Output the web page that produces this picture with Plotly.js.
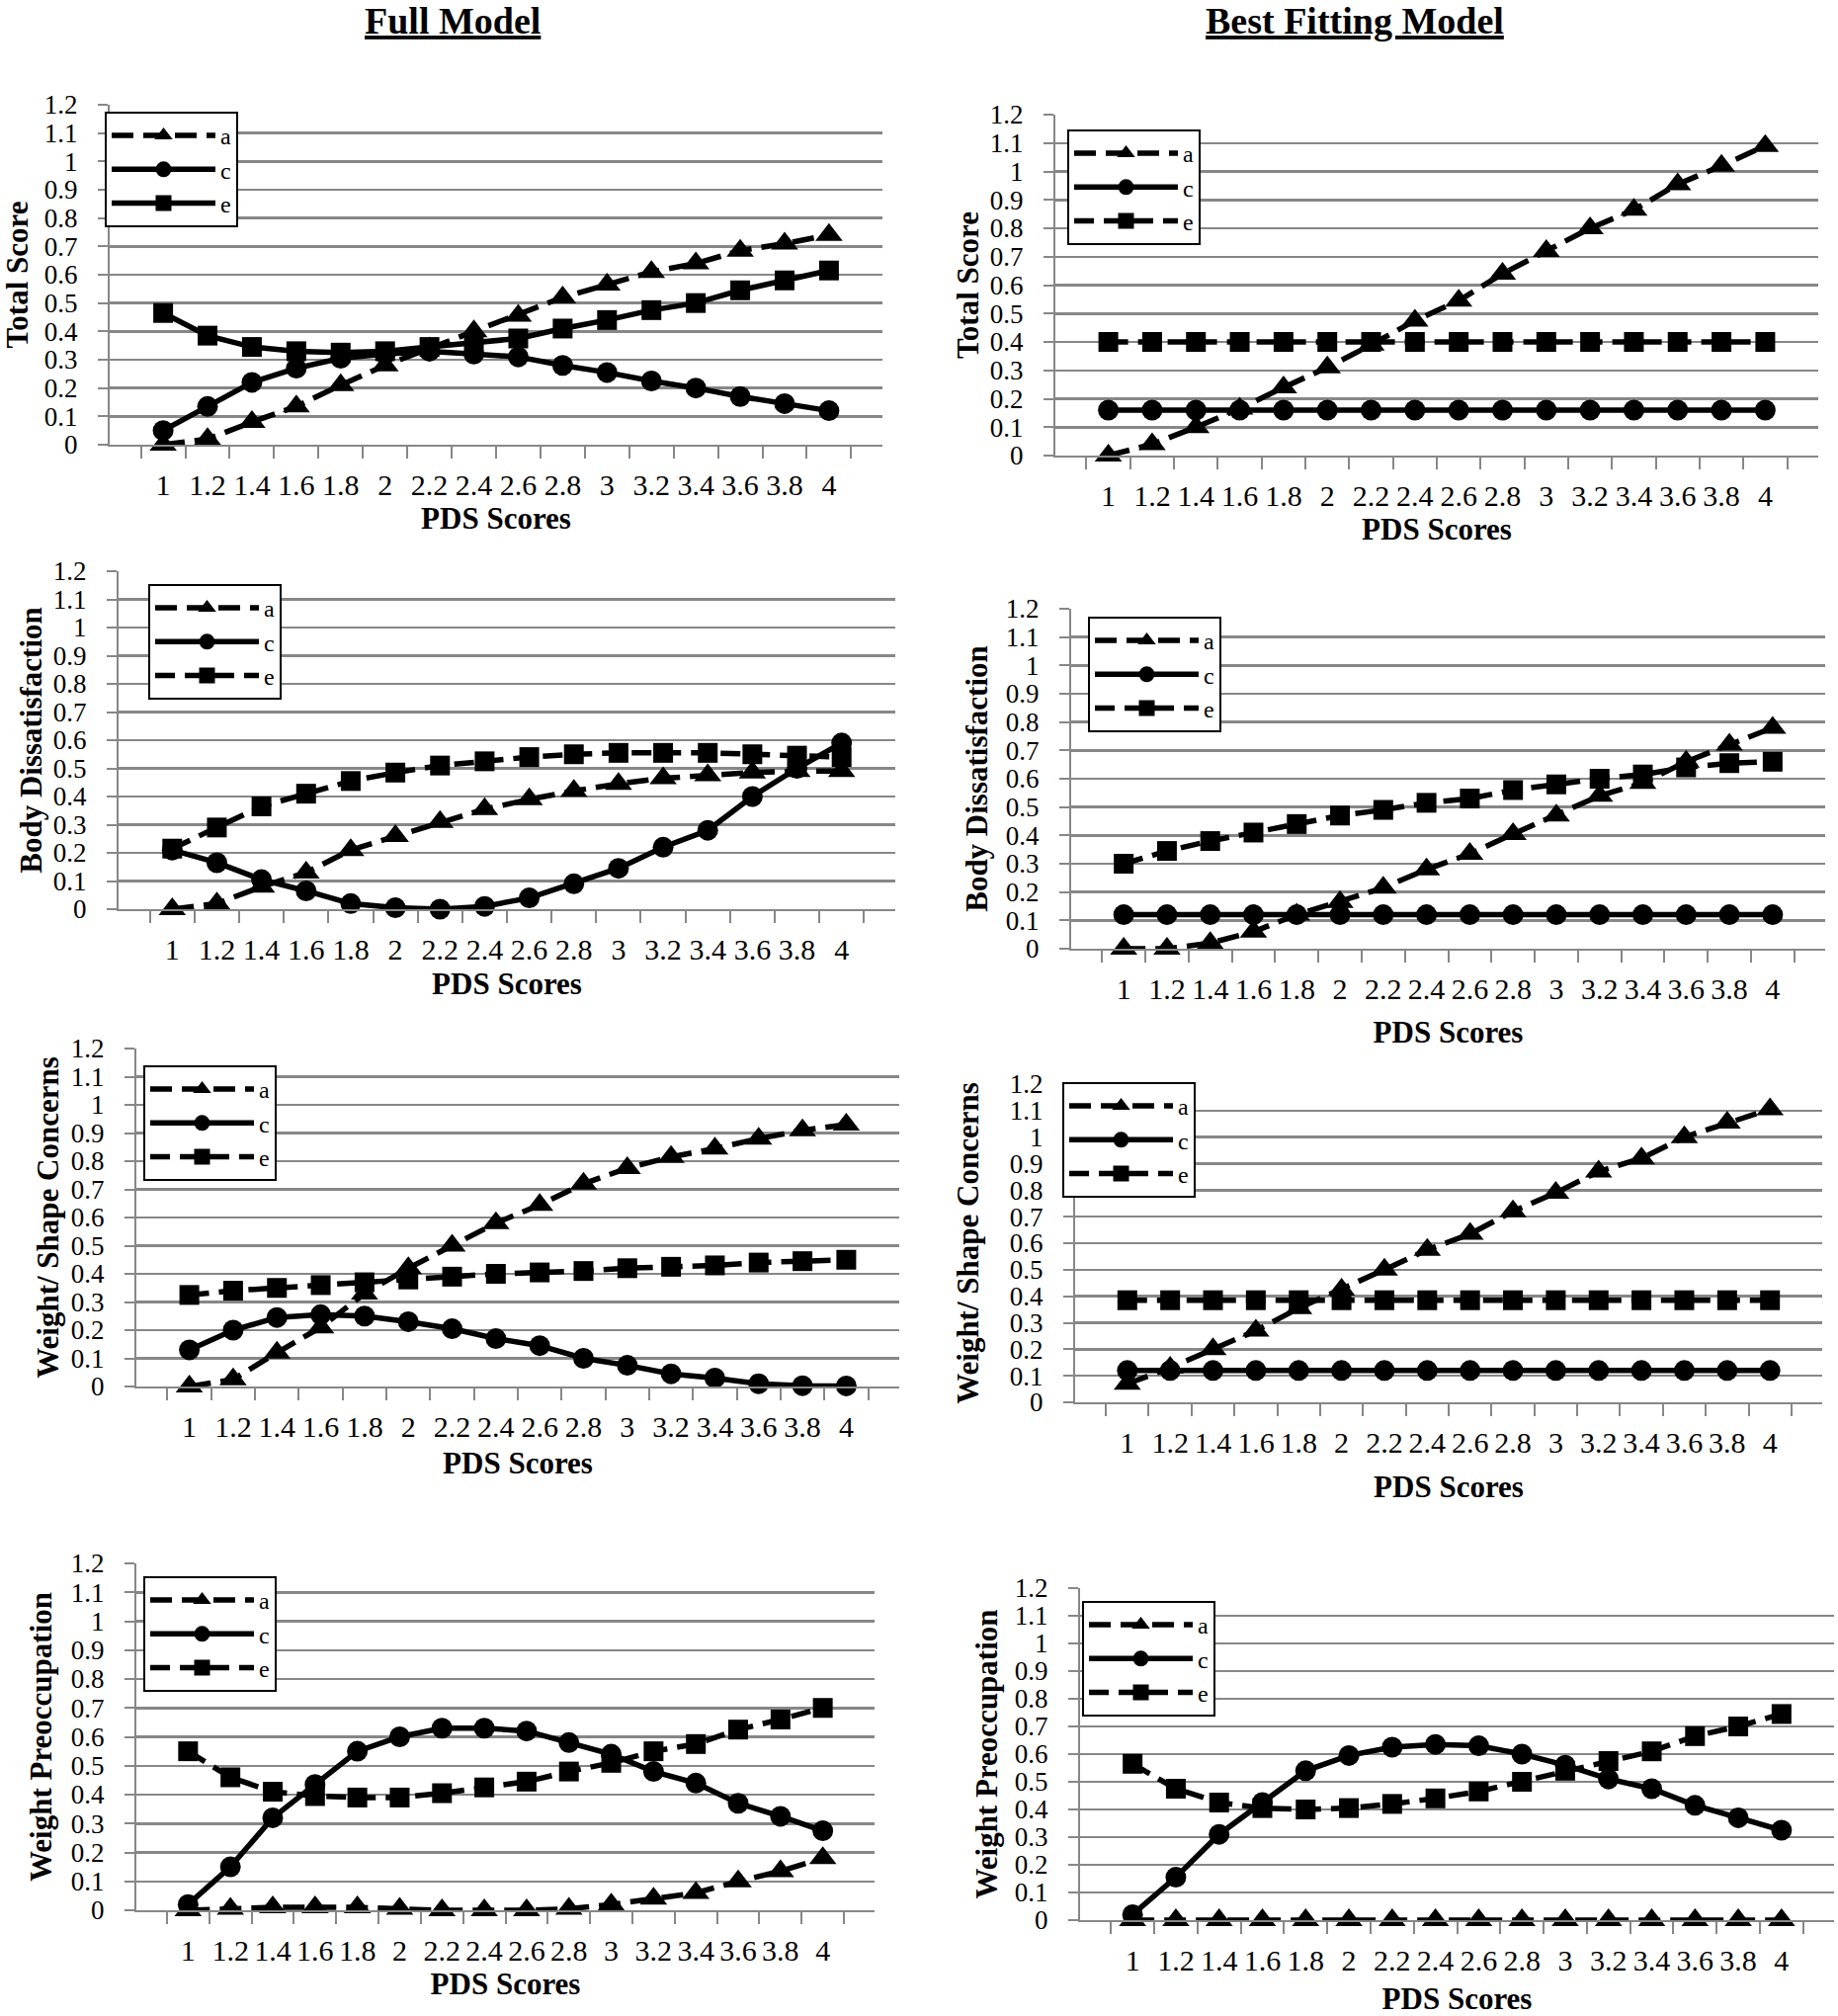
<!DOCTYPE html>
<html>
<head>
<meta charset="utf-8">
<script src="https://cdn.plot.ly/plotly-3.0.1.min.js"></script>
<style>
  html, body { margin: 0; padding: 0; background: #ffffff; }
  #chart { width: 1860px; height: 2040px; }
</style>
</head>
<body>
<div id="chart"></div>
<script>
// ---------- data ----------
const pdsScores = ["1", "1.2", "1.4", "1.6", "1.8", "2", "2.2", "2.4", "2.6", "2.8", "3", "3.2", "3.4", "3.6", "3.8", "4"];
const yTickValues = [0, 0.1, 0.2, 0.3, 0.4, 0.5, 0.6, 0.7, 0.8, 0.9, 1, 1.1, 1.2];
const yTickLabels = ["0", "0.1", "0.2", "0.3", "0.4", "0.5", "0.6", "0.7", "0.8", "0.9", "1", "1.1", "1.2"];
const seriesNames = ["a", "c", "e"];
const columnTitles = ["Full Model", "Best Fitting Model"];
const xTitle = "PDS Scores";
const yTitles = ["Total Score", "Body Dissatisfaction", "Weight/ Shape Concerns", "Weight Preoccupation"];

// Total Score - Full Model
const totalFullA = [0.00, 0.02, 0.08, 0.135, 0.21, 0.28, 0.34, 0.40, 0.455, 0.52, 0.565, 0.61, 0.64, 0.685, 0.71, 0.74];
const totalFullC = [0.05, 0.135, 0.22, 0.27, 0.305, 0.32, 0.33, 0.32, 0.31, 0.28, 0.255, 0.225, 0.20, 0.17, 0.145, 0.12];
const totalFullE = [0.465, 0.385, 0.345, 0.33, 0.325, 0.33, 0.345, 0.36, 0.375, 0.41, 0.44, 0.475, 0.50, 0.545, 0.58, 0.615];
// Total Score - Best Fitting Model
const totalBestA = [0.00, 0.04, 0.10, 0.165, 0.24, 0.31, 0.39, 0.475, 0.545, 0.64, 0.72, 0.80, 0.865, 0.955, 1.02, 1.09];
const totalBestC = [0.16, 0.16, 0.16, 0.16, 0.16, 0.16, 0.16, 0.16, 0.16, 0.16, 0.16, 0.16, 0.16, 0.16, 0.16, 0.16];
const totalBestE = [0.40, 0.40, 0.40, 0.40, 0.40, 0.40, 0.40, 0.40, 0.40, 0.40, 0.40, 0.40, 0.40, 0.40, 0.40, 0.40];
// Body Dissatisfaction - Full Model
const bodyFullA = [0.00, 0.02, 0.08, 0.13, 0.21, 0.26, 0.31, 0.355, 0.39, 0.42, 0.445, 0.465, 0.475, 0.485, 0.49, 0.49];
const bodyFullC = [0.21, 0.165, 0.105, 0.065, 0.02, 0.005, 0.00, 0.01, 0.04, 0.09, 0.145, 0.22, 0.28, 0.40, 0.50, 0.59];
const bodyFullE = [0.215, 0.29, 0.365, 0.41, 0.455, 0.485, 0.51, 0.525, 0.54, 0.55, 0.555, 0.555, 0.555, 0.55, 0.545, 0.54];
// Body Dissatisfaction - Best Fitting Model
const bodyBestA = [0.00, 0.00, 0.02, 0.06, 0.12, 0.165, 0.215, 0.28, 0.335, 0.405, 0.47, 0.54, 0.585, 0.66, 0.72, 0.78];
const bodyBestC = [0.12, 0.12, 0.12, 0.12, 0.12, 0.12, 0.12, 0.12, 0.12, 0.12, 0.12, 0.12, 0.12, 0.12, 0.12, 0.12];
const bodyBestE = [0.30, 0.345, 0.38, 0.41, 0.44, 0.47, 0.49, 0.515, 0.53, 0.56, 0.58, 0.60, 0.615, 0.64, 0.655, 0.66];
// Weight/ Shape Concerns - Full Model
const shapeFullA = [0.00, 0.025, 0.12, 0.21, 0.33, 0.42, 0.50, 0.58, 0.645, 0.72, 0.775, 0.815, 0.845, 0.88, 0.91, 0.93];
const shapeFullC = [0.13, 0.20, 0.245, 0.255, 0.25, 0.23, 0.205, 0.17, 0.145, 0.10, 0.075, 0.045, 0.03, 0.01, 0.003, 0.002];
const shapeFullE = [0.325, 0.34, 0.35, 0.36, 0.37, 0.38, 0.39, 0.40, 0.405, 0.41, 0.42, 0.425, 0.43, 0.44, 0.445, 0.45];
// Weight/ Shape Concerns - Best Fitting Model
const shapeBestA = [0.07, 0.13, 0.20, 0.27, 0.355, 0.425, 0.50, 0.575, 0.635, 0.72, 0.79, 0.87, 0.92, 1.00, 1.055, 1.105];
const shapeBestC = [0.12, 0.12, 0.12, 0.12, 0.12, 0.12, 0.12, 0.12, 0.12, 0.12, 0.12, 0.12, 0.12, 0.12, 0.12, 0.12];
const shapeBestE = [0.385, 0.385, 0.385, 0.385, 0.385, 0.385, 0.385, 0.385, 0.385, 0.385, 0.385, 0.385, 0.385, 0.385, 0.385, 0.385];
// Weight Preoccupation - Full Model
const preoccFullA = [0.00, 0.005, 0.01, 0.01, 0.01, 0.005, 0.00, 0.00, 0.00, 0.005, 0.02, 0.04, 0.06, 0.10, 0.135, 0.18];
const preoccFullC = [0.02, 0.15, 0.32, 0.435, 0.55, 0.60, 0.63, 0.63, 0.62, 0.58, 0.54, 0.48, 0.44, 0.37, 0.325, 0.275];
const preoccFullE = [0.55, 0.46, 0.41, 0.395, 0.39, 0.39, 0.405, 0.425, 0.445, 0.48, 0.51, 0.55, 0.575, 0.625, 0.66, 0.70];
// Weight Preoccupation - Best Fitting Model
const preoccBestA = [0.00, 0.00, 0.00, 0.00, 0.00, 0.00, 0.00, 0.00, 0.00, 0.00, 0.00, 0.00, 0.00, 0.00, 0.00, 0.00];
const preoccBestC = [0.02, 0.155, 0.31, 0.425, 0.54, 0.595, 0.625, 0.635, 0.63, 0.60, 0.56, 0.51, 0.475, 0.415, 0.37, 0.325];
const preoccBestE = [0.565, 0.475, 0.425, 0.405, 0.40, 0.405, 0.42, 0.44, 0.465, 0.50, 0.54, 0.575, 0.61, 0.665, 0.70, 0.745];

// ---------- layout geometry (pixels in the 1860 x 2040 page) ----------
const W = 1860, H = 2040;
const FONT = "Liberation Serif, Times New Roman, serif";
const GRID = "#878787";

// panel: plot box [left, right, top, bottom], legend top-left, x/y title standoffs
const panels = [
  {box: [111, 893, 106, 450],     leg: [106, 113],   xs: 6,  ys: 10, yt: yTitles[0], data: [totalFullA, totalFullC, totalFullE],  eDash: "solid"},
  {box: [1068, 1840, 116, 461],   leg: [1080, 131],  xs: 2,  ys: 2,  yt: yTitles[0], data: [totalBestA, totalBestC, totalBestE],  eDash: "20px,10px"},
  {box: [120, 906, 578, 920],     leg: [150, 591],   xs: 8,  ys: 2,  yt: yTitles[1], data: [bodyFullA, bodyFullC, bodyFullE],     eDash: "20px,10px"},
  {box: [1084, 1847, 616, 960],   leg: [1101, 624],  xs: 17, ys: 9,  yt: yTitles[1], data: [bodyBestA, bodyBestC, bodyBestE],     eDash: "20px,10px"},
  {box: [138, 910, 1061, 1403],   leg: [145, 1078],  xs: 10, ys: 3,  yt: yTitles[2], data: [shapeFullA, shapeFullC, shapeFullE],  eDash: "20px,10px"},
  {box: [1088, 1844, 1097, 1419], leg: [1075, 1095], xs: 18, ys: 22, yt: yTitles[2], data: [shapeBestA, shapeBestC, shapeBestE], eDash: "20px,10px"},
  {box: [138, 885, 1582, 1933],   leg: [145, 1595],  xs: 4,  ys: 10, yt: yTitles[3], data: [preoccFullA, preoccFullC, preoccFullE], eDash: "20px,10px"},
  {box: [1093, 1856, 1607, 1943], leg: [1095, 1620], xs: 13, ys: 8,  yt: yTitles[3], data: [preoccBestA, preoccBestC, preoccBestE], eDash: "20px,10px"}
];

const traces = [];
const layout = {
  width: W, height: H,
  margin: {l: 0, r: 0, t: 0, b: 0},
  paper_bgcolor: "#ffffff",
  plot_bgcolor: "#ffffff",
  font: {family: FONT, color: "#000000", size: 28},
  showlegend: true,
  annotations: []
};

panels.forEach((p, i) => {
  const n = i + 1;
  const xa = n === 1 ? "x" : "x" + n;
  const ya = n === 1 ? "y" : "y" + n;
  const legId = n === 1 ? "legend" : "legend" + n;
  const styles = [
    {dash: "22px,10px", symbol: "triangle-up", size: 24},
    {dash: "solid", symbol: "circle", size: 21},
    {dash: p.eDash, symbol: "square", size: 20}
  ];
  p.data.forEach((vals, k) => {
    traces.push({
      type: "scatter", mode: "lines+markers",
      x: pdsScores, y: vals, name: seriesNames[k],
      xaxis: xa, yaxis: ya, legend: legId,
      line: {color: "#000000", width: 5.5, dash: styles[k].dash},
      marker: {color: "#000000", symbol: styles[k].symbol, size: styles[k].size},
      cliponaxis: false,
      hoverinfo: "x+y+name"
    });
  });
  const [l, r, t, b] = p.box;
  layout["xaxis" + (n === 1 ? "" : n)] = {
    domain: [l / W, r / W], anchor: ya,
    type: "category", categoryorder: "array", categoryarray: pdsScores,
    tickson: "boundaries", ticks: "outside", ticklen: 12, tickwidth: 2, tickcolor: GRID,
    tickangle: 0,
    showline: true, linecolor: GRID, linewidth: 2, showgrid: false, zeroline: false,
    tickfont: {family: FONT, size: 30, color: "#000000"},
    ticklabelstandoff: 13,
    title: {text: xTitle, font: {family: FONT, size: 31, color: "#000000", weight: "bold"}, standoff: p.xs},
    fixedrange: true
  };
  layout["yaxis" + (n === 1 ? "" : n)] = {
    domain: [1 - b / H, 1 - t / H], anchor: xa,
    range: [0, 1.2], tickmode: "array", tickvals: yTickValues, ticktext: yTickLabels,
    ticks: "outside", ticklen: 10, tickwidth: 2, tickcolor: GRID,
    showline: true, linecolor: GRID, linewidth: 2,
    showgrid: true, gridcolor: GRID, gridwidth: 2.5, zeroline: false,
    tickfont: {family: FONT, size: 27, color: "#000000"},
    ticklabelstandoff: 15,
    title: {text: p.yt, font: {family: FONT, size: 31, color: "#000000", weight: "bold"}, standoff: p.ys},
    fixedrange: true
  };
  layout[legId] = {
    x: p.leg[0] / W, y: 1 - p.leg[1] / H, xanchor: "left", yanchor: "top",
    xref: "paper", yref: "paper",
    bgcolor: "#ffffff", bordercolor: "#000000", borderwidth: 2,
    font: {family: FONT, size: 24, color: "#000000"},
    itemwidth: 105, tracegroupgap: 0, itemclick: false, itemdoubleclick: false
  };
});

layout.annotations.push(
  {xref: "paper", yref: "paper", x: 458 / W, y: 1 - 21 / H, xanchor: "center", yanchor: "middle",
   text: "<u>" + columnTitles[0] + "</u>", showarrow: false,
   font: {family: FONT, size: 38, color: "#000000", weight: "bold"}},
  {xref: "paper", yref: "paper", x: 1371 / W, y: 1 - 21 / H, xanchor: "center", yanchor: "middle",
   text: "<u>" + columnTitles[1] + "</u>", showarrow: false,
   font: {family: FONT, size: 38, color: "#000000", weight: "bold"}}
);

Plotly.newPlot("chart", traces, layout, {staticPlot: true, displayModeBar: false});
</script>
</body>
</html>
